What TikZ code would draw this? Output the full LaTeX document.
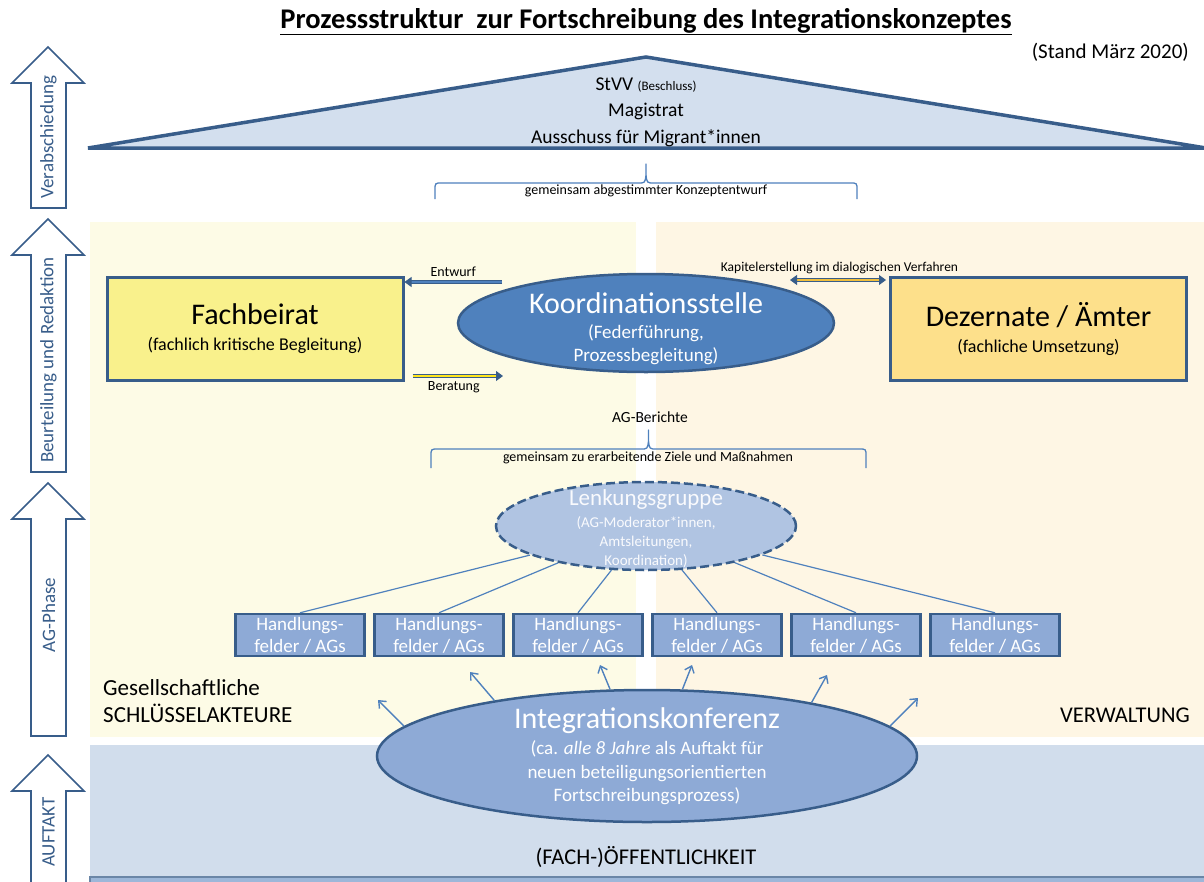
\documentclass[tikz,border=0pt]{standalone}
\usepackage{fontspec}
\setmainfont{Carlito}
\usetikzlibrary{arrows.meta,shapes.geometric,positioning}

\definecolor{rahmen}{HTML}{385D8A}
\definecolor{akzent}{HTML}{4F81BD}
\definecolor{dachblau}{HTML}{D3DFEE}
\definecolor{hellblau}{HTML}{B0C4E2}
\definecolor{mittelblau}{HTML}{8EAAD6}
\definecolor{gelbbox}{HTML}{F9F18C}
\definecolor{orangebox}{HTML}{FDE08B}
\definecolor{gelbflaeche}{HTML}{FDFBE6}
\definecolor{orangeflaeche}{HTML}{FEF6E4}
\definecolor{sockelblau}{HTML}{D1DDEC}
\definecolor{bandblau}{HTML}{9DB7D9}
\definecolor{pfeilgelb}{HTML}{FFE61E}
\definecolor{pfeilorange}{HTML}{F0BE3C}

\newcommand{\schrift}[2]{\fontsize{#1}{#2}\selectfont}

\tikzset{
  spitze/.tip={Triangle[length=7pt,width=10pt]},
  phasearrow/.style={draw=rahmen, line width=1.6pt, fill=white},
  phaselabel/.style={rotate=90, text=rahmen, font=\schrift{19}{22}},
  gremium/.style={rectangle, draw=rahmen, line width=3pt, minimum width=296pt, minimum height=103pt, align=center, font=\schrift{18}{26}},
  hfbox/.style={rectangle, draw=rahmen, line width=2.5pt, fill=mittelblau, minimum width=129pt, minimum height=42pt, text=white, align=center, font=\schrift{19}{22}},
  oval/.style={ellipse, draw=rahmen, line width=2.5pt},
  ovaltext/.style={text=white, align=center},
  klammer/.style={draw=akzent, line width=1.3pt, line join=round},
  klein/.style={font=\schrift{14}{16}},
  strahl/.style={draw=akzent, line width=1.4pt, -{Straight Barb[length=6pt,width=10pt]}},
  hflink/.style={draw=akzent, line width=1.2pt},
  bandpfeil/.style={draw=rahmen, line width=0.8pt, double=#1, double distance=2.6pt, -spitze},
  bandpfeil/.default=akzent,
}

\begin{document}
\begin{tikzpicture}[x=1pt, y=-1pt, inner sep=0pt]
  % Rahmen
  \useasboundingbox (0,0) rectangle (1204,881);
  \fill[white] (0,0) rectangle (1204,881);
  \clip (0,0) rectangle (1204,881);

  % Flaechen
  \fill[gelbflaeche] (90,222) rectangle (636,737);
  \fill[orangeflaeche] (656,222) rectangle (1204,737);
  \fill[sockelblau] (90,745) rectangle (1204,881);
  \draw[rahmen!75, line width=1.5pt, fill=bandblau] (90,877) rectangle (1210,900);

  % Titel
  \node[anchor=base, font=\schrift{28.5}{32}\bfseries] (titel) at (646,28)
    {\underline{Prozessstruktur\ \ zur Fortschreibung des Integrationskonzeptes}};
  \node[anchor=east, font=\schrift{21}{24}] (stand) at (1189,52) {(Stand März 2020)};

  % Dach
  \draw[rahmen, line width=3.5pt, fill=dachblau] (88,148) -- (646,57) -- (1206,148) -- cycle;
  \node[align=center, font=\schrift{19.5}{26.5}] (gremien) at (646,112)
    {StVV {\schrift{13}{15}(Beschluss)}\\Magistrat\\Ausschuss für Migrant*innen};

  % Phasen
  \foreach \spitze/\ende/\mitte/\name/\txt in {47/208/137/verab/Verabschiedung,
      219/472/360/beurt/Beurteilung und Redaktion, 483/736/615/agphase/AG-Phase,
      755/900/832/auftakt/AUFTAKT} {
    \draw[phasearrow] (31,\ende) -- (31,\spitze+36) -- (12,\spitze+36) -- (48,\spitze)
      -- (84,\spitze+36) -- (66,\spitze+36) -- (66,\ende) -- cycle;
    \node[phaselabel] (\name) at (48.5,\mitte) {\txt};
  }

  % Klammern
  \foreach \li/\re/\unten/\quer/\oben in {435/857/199/183/164, 431/866/468/449/430} {
    \pgfmathsetmacro{\m}{(\li+\re)/2}
    \draw[klammer] (\li,\unten) -- (\li,\quer+7) .. controls (\li,\quer) .. (\li+7,\quer)
      -- (\m-8,\quer) .. controls (\m-1,\quer) .. (\m,\quer-8) -- (\m,\oben)
      -- (\m,\quer-8) .. controls (\m+1,\quer) .. (\m+8,\quer)
      -- (\re-7,\quer) .. controls (\re,\quer) .. (\re,\quer+7) -- (\re,\unten);
  }
  \node[klein] (konzept) at (646,191) {gemeinsam abgestimmter Konzeptentwurf};
  \node[font=\schrift{15.5}{18}] (berichte) at (650,417) {AG-Berichte};
  \node[klein] (ziele) at (648,458) {gemeinsam zu erarbeitende Ziele und Maßnahmen};

  % Gremien
  \node[gremium, fill=gelbbox] (fach) at (255,329)
    {{\schrift{30}{32}Fachbeirat}\\(fachlich kritische Begleitung)};
  \node[gremium, fill=orangebox] (dez) at (1038.5,329)
    {{\schrift{30}{32}Dezernate / Ämter}\\(fachliche Umsetzung)};

  \node[oval, fill=akzent, minimum width=376pt, minimum height=98pt] (koord) at (646,323) {};
  \node[ovaltext, font=\schrift{19}{23}] (koordtext) at (646,329)
    {{\schrift{30}{32}Koordinationsstelle}\\[2pt](Federführung,\\Prozessbegleitung)};

  % Pfeile Koordination
  \coordinate (entwurfstart) at (502,282);
  \draw[bandpfeil=akzent] (entwurfstart) -- (fach.east |- entwurfstart)
    node[midway, above=5pt, klein] (entwurf) {Entwurf};
  \coordinate (beratungziel) at (503,376);
  \draw[bandpfeil=pfeilgelb, shorten <=8pt] (fach.east |- beratungziel) -- (beratungziel)
    node[midway, below=5pt, klein] (beratung) {Beratung};
  \coordinate (kapitelstart) at (790,280);
  \draw[bandpfeil=pfeilorange, spitze-spitze, shorten >=3pt] (kapitelstart) -- (dez.west |- kapitelstart)
    node[midway, above=6pt, font=\schrift{13.5}{16}] (kapitel) {Kapitelerstellung im dialogischen Verfahren};

  % Lenkungsgruppe und AGs
  \node[oval, dashed, dash pattern=on 9pt off 4pt, fill=hellblau, minimum width=300pt, minimum height=88pt] (lenk) at (646,526) {};
  \node[ovaltext, text=white!92!hellblau, font=\schrift{15}{19}] (lenktext) at (646,529)
    {{\schrift{23}{25}Lenkungsgruppe}\\[3pt](AG-Moderator*innen,\\Amtsleitungen,\\Koordination)};

  \foreach \i in {1,...,6}
    \node[hfbox] (hf\i) at ({300+139*(\i-1)},635) {Handlungs-\\felder / AGs};
  \foreach \i in {1,...,6}
    \draw[hflink] (lenk) -- (hf\i.north);

  % Integrationskonferenz
  \node[oval, fill=mittelblau, minimum width=540pt, minimum height=132pt] (integ) at (647,756) {};
  \node[ovaltext, font=\schrift{19}{23.5}] (integtext) at (647,756)
    {{\schrift{30}{32}Integrationskonferenz}\\[3pt](ca. \textit{alle 8 Jahre} als Auftakt für\\neuen beteiligungsorientierten\\Fortschreibungsprozess)};
  \foreach \winkel/\zx/\zy [count=\k] in {173/378/700, 160/470/672, 119/600/665,
      62/692/665, 18/827/675, 7/918/698} {
    \coordinate (ziel\k) at (\zx,\zy);
    \draw[strahl] (integ.\winkel) -- (ziel\k);
  }

  % Bereiche
  \node[anchor=west, align=left, font=\schrift{23}{27}] (schluessel) at (103,701)
    {Gesellschaftliche\\SCHLÜSSELAKTEURE};
  \node[anchor=east, font=\schrift{22.5}{27}] (verwaltung) at (1190,715) {VERWALTUNG};
  \node[font=\schrift{22.5}{27}] (oeffentlich) at (646,857) {(FACH-)ÖFFENTLICHKEIT};
\end{tikzpicture}
\end{document}
